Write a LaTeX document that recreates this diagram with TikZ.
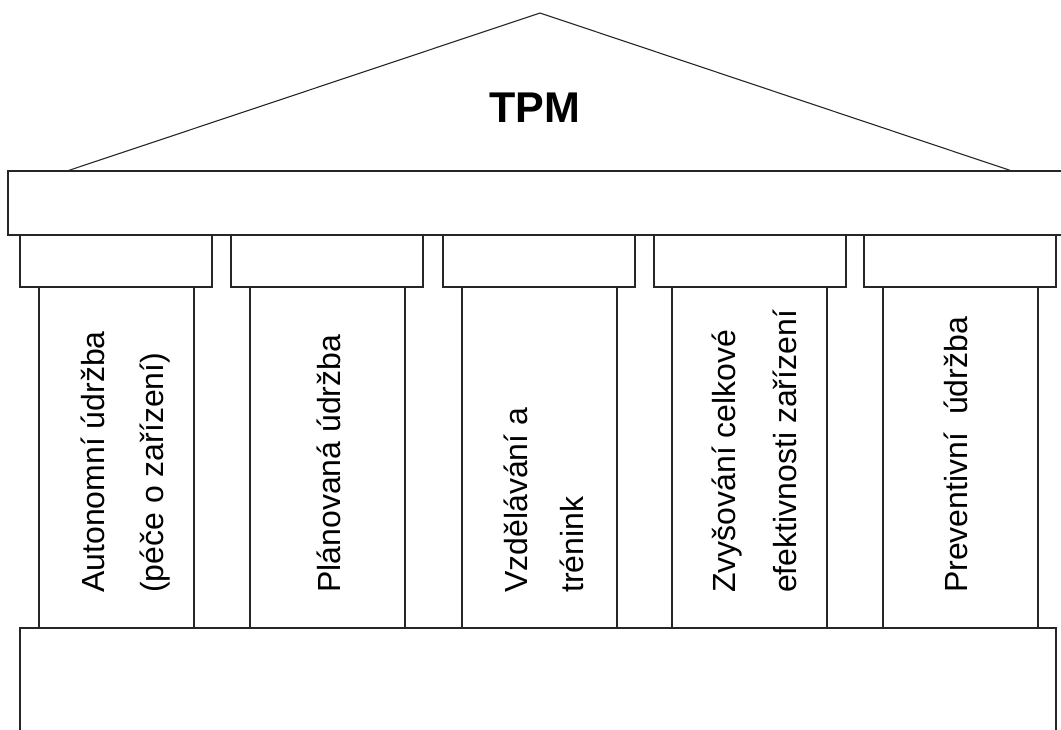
\documentclass[tikz,border=0pt]{standalone}
\usepackage{fontspec}
\setmainfont{Liberation Sans}
\begin{document}
\begin{tikzpicture}[x=1pt,y=-1pt,
  part/.style={draw=black!85,line width=1.1pt},
  pillartext/.style={rotate=90,anchor=base west,inner sep=0pt,
    font=\fontsize{32}{38}\selectfont}]
\useasboundingbox (0,0) rectangle (1061,729);
\clip (0,0) rectangle (1061,729);
% roof
\draw[part] (67,171) -- (540,13) -- (1012,171);
\node[font=\bfseries\fontsize{43}{50}\selectfont,anchor=base,inner sep=0pt] (tpm) at (534.5,122) {TPM};
% entablature
\draw[part] (8,171) rectangle (1075,235);
% capitals
\foreach \x in {20,231,443,654,864}
  \draw[part] (\x,235) rectangle ++(192,52);
% shafts
\foreach \x in {39,250,462,672,883}
  \draw[part] (\x,287) rectangle ++(155,341);
% base
\draw[part] (20,628) rectangle (1056,745);
% pillar labels
\node[pillartext] (t1a) at (104,593) {Autonomní údržba};
\node[pillartext] (t1b) at (163,593) {(péče o zařízení)};
\node[pillartext] (t2)  at (340,593) {Plánovaná údržba};
\node[pillartext] (t3a) at (527,593) {Vzdělávání a};
\node[pillartext] (t3b) at (583,593) {trénink};
\node[pillartext] (t4a) at (735,593) {Zvyšování celkové};
\node[pillartext] (t4b) at (796,593) {efektivnosti zařízení};
\node[pillartext] (t5)  at (967,593) {Preventivní\ \ údržba};
\end{tikzpicture}
\end{document}
